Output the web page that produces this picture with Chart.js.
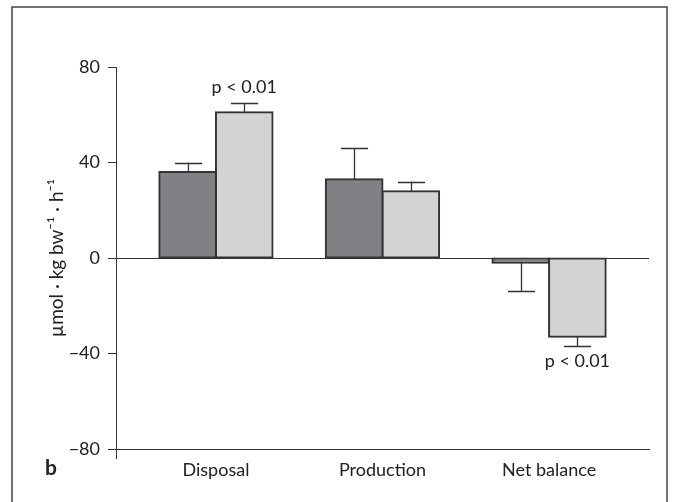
<!DOCTYPE html>
<html><head><meta charset="utf-8">
<script src="https://cdn.jsdelivr.net/npm/chart.js@4"></script>
<style>html,body{margin:0;padding:0;background:#fff}#wrap{width:676px;height:502px;position:relative}</style>
</head><body><div id="wrap"><canvas id="c" width="676" height="502"></canvas></div>
<script>
const categories = ['Disposal', 'Production', 'Net balance'];
const categoryPositions = [1, 2, 3];
const darkValues = [36, 33, -2];
const darkErrors = [4, 13, 12];
const lightValues = [61, 28, -33];
const lightErrors = [4, 4, 4];
const yTicks = [-80, -40, 0, 40, 80];
const pLabels = [{ dataset: 1, index: 0, text: 'p < 0.01' }, { dataset: 1, index: 2, text: 'p < 0.01' }];
const yTitle = 'µmol · kg bw⁻¹ · h⁻¹';
const panelLetter = 'b';

const FONT = 'Lato, "Open Sans", "Liberation Sans", sans-serif';
const INK = '#333333';
const errorsByDataset = [darkErrors, lightErrors];

const extras = {
  id: 'extras',
  beforeDraw(chart) {
    const ctx = chart.ctx;
    ctx.save();
    ctx.fillStyle = '#fff';
    ctx.fillRect(0, 0, chart.width, chart.height);
    ctx.strokeStyle = '#444';
    ctx.lineWidth = 1.5;
    ctx.strokeRect(12, 7, 655, 520);
    ctx.restore();
  },
  beforeDatasetsDraw(chart) {
    const ctx = chart.ctx, a = chart.chartArea, y = chart.scales.y;
    const y0 = Math.round(y.getPixelForValue(0)) + 0.5;
    ctx.save();
    ctx.strokeStyle = INK; ctx.lineWidth = 1;
    ctx.beginPath(); ctx.moveTo(a.left, y0); ctx.lineTo(a.right, y0); ctx.stroke();
    ctx.beginPath(); ctx.moveTo(a.left + 0.5, a.bottom); ctx.lineTo(a.left + 0.5, a.bottom + 10); ctx.stroke();
    ctx.restore();
  },
  afterDatasetsDraw(chart) {
    const ctx = chart.ctx, y = chart.scales.y;
    ctx.save();
    ctx.strokeStyle = INK; ctx.lineWidth = 1.3;
    chart.data.datasets.forEach((ds, di) => {
      const meta = chart.getDatasetMeta(di);
      meta.data.forEach((bar, i) => {
        const v = ds.data[i].y;
        const e = errorsByDataset[di][i];
        const end = y.getPixelForValue(v >= 0 ? v + e : v - e);
        const cx = Math.round(bar.x) + 0.5;
        const half = bar.width * 0.24;
        ctx.beginPath();
        ctx.moveTo(cx, bar.y); ctx.lineTo(cx, end);
        ctx.moveTo(cx - half, Math.round(end) + 0.5); ctx.lineTo(cx + half, Math.round(end) + 0.5);
        ctx.stroke();
      });
    });
    ctx.fillStyle = '#222';
    ctx.font = '18px ' + FONT;
    ctx.textAlign = 'center';
    ctx.textBaseline = 'alphabetic';
    pLabels.forEach(p => {
      const ds = chart.data.datasets[p.dataset];
      const bar = chart.getDatasetMeta(p.dataset).data[p.index];
      const v = ds.data[p.index].y;
      const e = errorsByDataset[p.dataset][p.index];
      const end = y.getPixelForValue(v >= 0 ? v + e : v - e);
      ctx.fillText(p.text, bar.x, v >= 0 ? end - 10 : end + 21);
    });
    ctx.font = 'bold 21px ' + FONT;
    ctx.textAlign = 'left';
    ctx.fillText(panelLetter, 45, 475);
    ctx.restore();
  }
};

const toPoints = vals => vals.map((v, i) => ({ x: categoryPositions[i], y: v }));

new Chart(document.getElementById('c'), {
  type: 'bar',
  data: {
    datasets: [
      { data: toPoints(darkValues), backgroundColor: '#808184', borderColor: INK, borderWidth: 2, borderSkipped: false, inflateAmount: 1 },
      { data: toPoints(lightValues), backgroundColor: '#d2d3d5', borderColor: INK, borderWidth: 2, borderSkipped: false, inflateAmount: 1 }
    ]
  },
  options: {
    responsive: false,
    devicePixelRatio: 1,
    animation: false,
    categoryPercentage: 0.68,
    barPercentage: 1,
    layout: { padding: { top: 67, right: 27, left: 0, bottom: 0 } },
    plugins: { legend: { display: false }, tooltip: { enabled: false } },
    scales: {
      x: {
        type: 'linear', min: 0.4, max: 3.6, offset: false,
        afterBuildTicks: s => { s.ticks = categoryPositions.map(v => ({ value: v })); },
        afterFit: s => { s.height = 53; },
        grid: { display: false, drawTicks: false, offset: false },
        border: { display: true, color: INK, width: 1 },
        ticks: {
          callback: v => categories[categoryPositions.indexOf(v)],
          font: { family: FONT, size: 18 }, color: '#222', padding: 10, maxRotation: 0, autoSkip: false
        }
      },
      y: {
        min: -80, max: 80,
        afterBuildTicks: s => { s.ticks = yTicks.map(v => ({ value: v })); },
        afterFit: s => { s.width = 116; },
        grid: { drawOnChartArea: false, drawTicks: true, tickLength: 8, color: INK },
        border: { display: true, color: INK, width: 1 },
        ticks: {
          callback: v => (v < 0 ? '\u2212' + Math.abs(v) : String(v)),
          font: { family: FONT, size: 18 }, color: '#222', padding: 8
        },
        title: { display: true, text: yTitle, font: { family: FONT, size: 19 }, color: '#222', padding: { top: 45, bottom: 0 } }
      }
    }
  },
  plugins: [extras]
});
</script>
</body></html>
